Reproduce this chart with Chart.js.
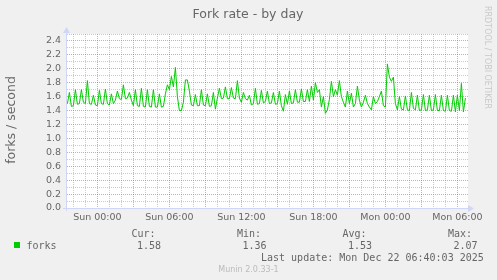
<!DOCTYPE html>
<html><head><meta charset="utf-8">
<script src="https://cdn.jsdelivr.net/npm/chart.js@4"></script>
<style>html,body{margin:0;padding:0;background:#F0F0F0;overflow:hidden}#wrap{width:497px;height:280px}</style>
</head><body><div id="wrap"><canvas id="c" width="497" height="280"></canvas></div>
<script>
const chartTitle = 'Fork rate - by day';
const yAxisTitle = 'forks / second';
const seriesName = 'forks';
const startMinute = -150; // minutes relative to Sun 00:00
const stepMinutes = 10;
const forks = [
1.50,1.66,1.46,1.47,1.70,1.49,1.50,1.70,1.52,1.50,
1.83,1.50,1.49,1.62,1.48,1.47,1.69,1.50,1.49,1.71,
1.50,1.48,1.64,1.50,1.55,1.68,1.57,1.56,1.77,1.57,
1.58,1.66,1.55,1.47,1.70,1.47,1.46,1.72,1.46,1.45,
1.70,1.46,1.45,1.70,1.45,1.45,1.64,1.45,1.46,1.64,
1.77,1.70,1.89,1.74,2.02,1.60,1.40,1.40,1.52,1.84,
1.84,1.68,1.48,1.47,1.63,1.47,1.47,1.70,1.48,1.47,
1.64,1.46,1.47,1.66,1.42,1.58,1.72,1.57,1.58,1.74,
1.57,1.57,1.73,1.58,1.57,1.83,1.58,1.52,1.66,1.57,
1.55,1.62,1.48,1.50,1.72,1.49,1.50,1.69,1.51,1.53,
1.68,1.50,1.51,1.66,1.49,1.50,1.68,1.47,1.39,1.63,
1.49,1.68,1.50,1.51,1.70,1.52,1.52,1.71,1.53,1.53,
1.70,1.53,1.75,1.55,1.80,1.66,1.70,1.45,1.60,1.36,
1.41,1.56,1.82,1.60,1.70,1.62,1.83,1.60,1.52,1.45,
1.68,1.50,1.65,1.45,1.50,1.75,1.55,1.45,1.52,1.62,
1.50,1.45,1.41,1.60,1.50,1.53,1.60,1.68,1.47,1.45,
2.07,1.88,1.82,1.88,1.50,1.41,1.60,1.42,1.41,1.61,
1.41,1.40,1.66,1.43,1.41,1.62,1.40,1.41,1.63,1.40,
1.41,1.62,1.40,1.41,1.63,1.40,1.40,1.62,1.40,1.39,
1.62,1.40,1.39,1.62,1.38,1.62,1.40,1.79,1.38,1.58
];
const xTickMinutes = [0, 360, 720, 1080, 1440, 1800];
const xTickText = ['Sun 00:00','Sun 06:00','Sun 12:00','Sun 18:00','Mon 00:00','Mon 06:00'];
const statLabels = ['Cur:','Min:','Avg:','Max:'];
const statValues = ['1.58','1.36','1.53','2.07'];
const lastUpdate = 'Last update: Mon Dec 22 06:40:03 2025';
const watermark = 'RRDTOOL / TOBI OETIKER';
const footer = 'Munin 2.0.33-1';

const TXT = '#666666';
const AXIS = '#CFD6F8';
const MAJOR = 'rgba(224,80,80,0.55)';
const MINOR = 'rgba(140,140,140,0.45)';
const SANS = "'DejaVu Sans', sans-serif";
const MONO = "'DejaVu Sans Mono', monospace";

const points = forks.map((v, i) => ({x: startMinute + i * stepMinutes, y: v}));

const decor = {
  id: 'decor',
  beforeDraw(chart) {
    const {ctx, chartArea: a} = chart;
    ctx.save();
    ctx.fillStyle = '#F0F0F0';
    ctx.fillRect(0, 0, chart.width, chart.height);
    ctx.fillStyle = '#FFFFFF';
    ctx.fillRect(a.left, a.top, a.right - a.left, a.bottom - a.top);
    ctx.restore();
  },
  afterDraw(chart) {
    const {ctx, chartArea: a} = chart;
    ctx.save();
    ctx.strokeStyle = AXIS; ctx.fillStyle = AXIS; ctx.lineWidth = 1;
    const ax = a.left - 0.5, ay = a.bottom + 0.5;
    ctx.beginPath(); ctx.moveTo(a.left - 4, ay); ctx.lineTo(a.right + 1, ay); ctx.stroke();
    ctx.beginPath(); ctx.moveTo(ax, a.bottom + 3); ctx.lineTo(ax, a.top - 2); ctx.stroke();
    ctx.beginPath(); ctx.moveTo(a.right, ay - 3.5); ctx.lineTo(a.right + 6, ay); ctx.lineTo(a.right, ay + 3.5); ctx.closePath(); ctx.fill();
    ctx.beginPath(); ctx.moveTo(ax - 3.5, a.top - 1); ctx.lineTo(ax, a.top - 7); ctx.lineTo(ax + 3.5, a.top - 1); ctx.closePath(); ctx.fill();

    ctx.fillStyle = TXT;
    ctx.font = '12.5px ' + SANS;
    ctx.textAlign = 'center'; ctx.textBaseline = 'alphabetic';
    ctx.fillText(chartTitle, 248, 18);

    ctx.save();
    ctx.translate(15, 120);
    ctx.rotate(-Math.PI / 2);
    ctx.font = '12.5px ' + SANS;
    ctx.textAlign = 'center';
    ctx.fillText(yAxisTitle, 0, 0);
    ctx.restore();

    ctx.save();
    ctx.fillStyle = '#C8C8C8';
    ctx.translate(485, 6);
    ctx.rotate(Math.PI / 2);
    ctx.font = '8px ' + SANS;
    ctx.textAlign = 'left';
    ctx.fillText(watermark, 0, 0);
    ctx.restore();

    ctx.fillStyle = '#00CC00';
    ctx.fillRect(14, 242, 6, 6);
    ctx.fillStyle = TXT;
    ctx.font = '10px ' + MONO;
    ctx.textAlign = 'left';
    ctx.fillText(seriesName, 26.5, 248.5);
    const colX = [131.5, 237, 342.5, 448];
    statLabels.forEach((s, i) => ctx.fillText(s, colX[i], 236.5));
    statValues.forEach((s, i) => ctx.fillText(s, colX[i] + 5.5, 248.5));
    ctx.fillText(lastUpdate, 261, 261);

    ctx.fillStyle = '#BBBBBB';
    ctx.font = '8px ' + SANS;
    ctx.textAlign = 'center';
    ctx.fillText(footer, 248.5, 272);
    ctx.restore();
  }
};

new Chart(document.getElementById('c'), {
  type: 'line',
  data: {
    datasets: [{
      label: seriesName,
      data: points,
      borderColor: '#00CC00',
      borderWidth: 1,
      pointRadius: 0,
      tension: 0,
      fill: false
    }]
  },
  options: {
    responsive: false,
    animation: false,
    devicePixelRatio: 1,
    layout: {padding: {left: 0, right: 29, top: 34, bottom: 0}},
    plugins: {legend: {display: false}, title: {display: false}, tooltip: {enabled: false}},
    scales: {
      x: {
        type: 'linear',
        min: -152,
        max: 1853,
        afterBuildTicks(scale) {
          const t = [];
          for (let m = -120; m <= 1800; m += 60) t.push({value: m});
          scale.ticks = t;
        },
        afterFit(scale) { scale.height = 72; },
        ticks: {
          autoSkip: false, maxRotation: 0, minRotation: 0, padding: 4,
          color: TXT, font: {family: SANS, size: 9.5},
          callback(value) {
            const k = xTickMinutes.indexOf(value);
            return k >= 0 ? xTickText[k] : '';
          }
        },
        grid: {
          drawTicks: false,
          color(ctx) {
            const v = ctx.tick ? ctx.tick.value : 0;
            return (v % 180 === 0) ? MAJOR : MINOR;
          }
        },
        border: {display: false, dash: [1, 1]}
      },
      y: {
        min: 0,
        max: 2.5,
        afterBuildTicks(scale) {
          const t = [];
          for (let k = 0; k <= 25; k++) t.push({value: k / 10});
          scale.ticks = t;
        },
        afterFit(scale) { scale.width = 67; },
        ticks: {
          autoSkip: false, padding: 6,
          color: TXT, font: {family: SANS, size: 9.5},
          callback(value) {
            const k = Math.round(value * 10);
            return k % 2 === 0 ? (k / 10).toFixed(1) : '';
          }
        },
        grid: {
          drawTicks: false,
          color(ctx) {
            const k = ctx.tick ? Math.round(ctx.tick.value * 10) : 0;
            if (k === 0) return 'rgba(0,0,0,0)';
            return k % 2 === 0 ? MAJOR : MINOR;
          }
        },
        border: {display: false, dash: [1, 1]}
      }
    }
  },
  plugins: [decor]
});
</script>
</body></html>
